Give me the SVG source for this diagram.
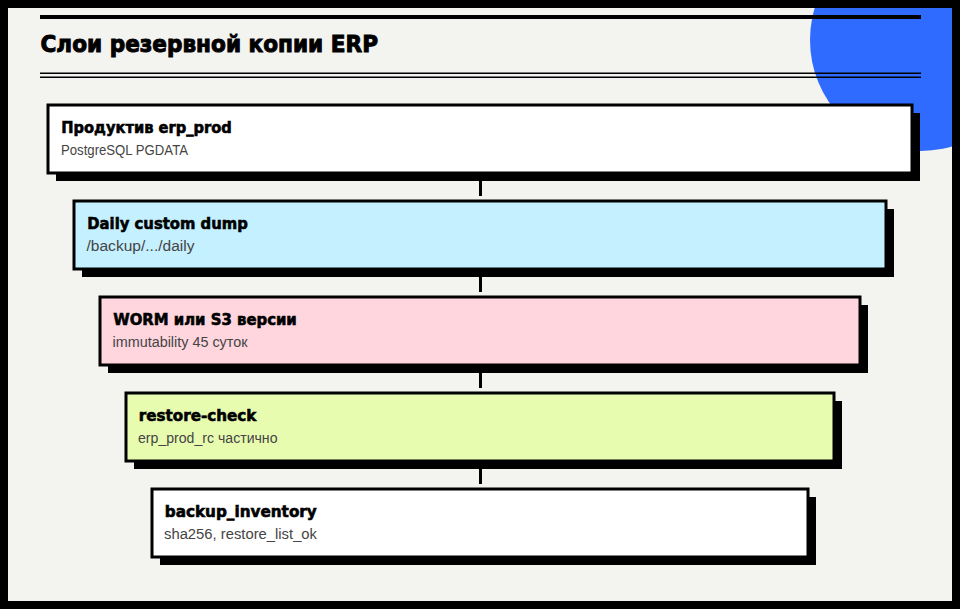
<svg xmlns="http://www.w3.org/2000/svg" width="960" height="609" viewBox="0 0 960 609">
<style>
.title{font-family:"DejaVu Sans","Liberation Sans",sans-serif;font-weight:bold;font-size:23.5px;fill:#000;stroke:#000;stroke-width:1}
.nt{font-family:"DejaVu Sans","Liberation Sans",sans-serif;font-weight:bold;font-size:15.5px;fill:#000;stroke:#000;stroke-width:0.6}
.ns{font-family:"Liberation Sans",Arial,sans-serif;font-size:14px;fill:#444}
.box{stroke:#000;stroke-width:3}
.sh{fill:#000}
.conn{stroke:#000;stroke-width:3;fill:none}
</style>
<defs>
<clipPath id="inner"><rect x="8" y="8" width="944" height="593"/></clipPath>
</defs>
<rect x="0" y="0" width="960" height="609" fill="#000"/>
<rect x="8" y="8" width="944" height="593" fill="#f3f3ef"/>
<circle cx="921" cy="40" r="111" fill="#2f6bff" clip-path="url(#inner)"/>
<rect x="40" y="15" width="881" height="4" fill="#000"/>
<text class="title" x="40.5" y="52" textLength="337.5" lengthAdjust="spacingAndGlyphs">Слои резервной копии ERP</text>
<rect x="40" y="72.5" width="881" height="1.5" fill="#000"/>
<rect x="40" y="76.5" width="881" height="1.5" fill="#000"/>
<g id="connectors">
<line class="conn" x1="480.5" y1="181" x2="480.5" y2="196"/>
<line class="conn" x1="480.5" y1="277" x2="480.5" y2="292"/>
<line class="conn" x1="480.5" y1="373" x2="480.5" y2="388"/>
<line class="conn" x1="480.5" y1="469" x2="480.5" y2="484"/>
</g>
<g id="node-prod">
<rect class="sh" x="56" y="113" width="864" height="68"/>
<rect class="box" x="48" y="105" width="864" height="68" fill="#ffffff"/>
<text class="nt" x="61.3" y="133" textLength="170.5" lengthAdjust="spacingAndGlyphs">Продуктив erp_prod</text>
<text class="ns" x="61" y="154.5" textLength="127" lengthAdjust="spacingAndGlyphs">PostgreSQL PGDATA</text>
</g>
<g id="node-daily">
<rect class="sh" x="82" y="209" width="812" height="68"/>
<rect class="box" x="74" y="201" width="812" height="68" fill="#c4f0ff"/>
<text class="nt" x="87.3" y="229" textLength="160.5" lengthAdjust="spacingAndGlyphs">Daily custom dump</text>
<text class="ns" x="86.5" y="250.5" textLength="108" lengthAdjust="spacingAndGlyphs">/backup/.../daily</text>
</g>
<g id="node-worm">
<rect class="sh" x="108" y="305" width="760" height="68"/>
<rect class="box" x="100" y="297" width="760" height="68" fill="#ffd6de"/>
<text class="nt" x="113.3" y="325" textLength="183.5" lengthAdjust="spacingAndGlyphs">WORM или S3 версии</text>
<text class="ns" x="112.5" y="346.5" textLength="135" lengthAdjust="spacingAndGlyphs">immutability 45 суток</text>
</g>
<g id="node-restore">
<rect class="sh" x="134" y="401" width="708" height="68"/>
<rect class="box" x="126" y="393" width="708" height="68" fill="#e8fcb0"/>
<text class="nt" x="138.8" y="421" textLength="117.5" lengthAdjust="spacingAndGlyphs">restore-check</text>
<text class="ns" x="138" y="442.5" textLength="139.5" lengthAdjust="spacingAndGlyphs">erp_prod_rc частично</text>
</g>
<g id="node-inventory">
<rect class="sh" x="160" y="497" width="656" height="68"/>
<rect class="box" x="152" y="489" width="656" height="68" fill="#ffffff"/>
<text class="nt" x="164.8" y="517" textLength="152" lengthAdjust="spacingAndGlyphs">backup_inventory</text>
<text class="ns" x="164" y="538.5" textLength="153" lengthAdjust="spacingAndGlyphs">sha256, restore_list_ok</text>
</g>
</svg>
